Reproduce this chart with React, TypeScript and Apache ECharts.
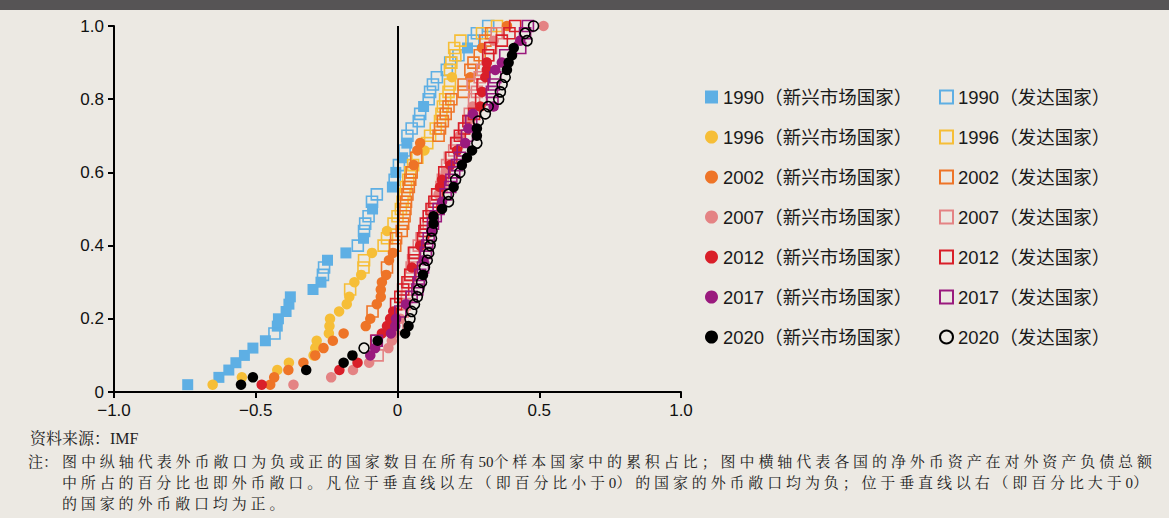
import React, { useEffect, useRef } from 'react';
import * as echarts from 'echarts';

// ---- Data: [net FX asset share, cumulative share of countries] ----
const em1990 = [[-0.74,0.02],[-0.63,0.04],[-0.595,0.06],[-0.57,0.08],[-0.54,0.10],[-0.51,0.12],[-0.466,0.14],[-0.424,0.18],[-0.42,0.20],[-0.393,0.22],[-0.383,0.24],[-0.378,0.26],[-0.298,0.28],[-0.27,0.30],[-0.247,0.36],[-0.182,0.38],[-0.12,0.42],[-0.088,0.50],[-0.018,0.56],[-0.006,0.60],[0.018,0.64],[0.033,0.68],[0.092,0.78],[0.247,0.94]];
const dev1990 = [[-0.434,0.16],[-0.263,0.32],[-0.259,0.34],[-0.14,0.40],[-0.118,0.44],[-0.114,0.46],[-0.102,0.48],[-0.09,0.52],[-0.073,0.54],[-0.01,0.58],[0.005,0.62],[0.025,0.66],[0.035,0.70],[0.05,0.72],[0.075,0.74],[0.08,0.76],[0.11,0.80],[0.115,0.82],[0.125,0.84],[0.139,0.86],[0.174,0.88],[0.186,0.90],[0.215,0.92],[0.268,0.96],[0.28,0.98],[0.32,1.0]];
const em1996 = [[-0.652,0.02],[-0.549,0.04],[-0.424,0.06],[-0.383,0.08],[-0.296,0.10],[-0.29,0.12],[-0.285,0.14],[-0.242,0.16],[-0.24,0.18],[-0.238,0.20],[-0.206,0.22],[-0.179,0.24],[-0.17,0.26],[-0.152,0.30],[-0.128,0.32],[-0.09,0.38],[-0.037,0.44],[0.095,0.66],[0.192,0.86]];
const dev1996 = [[-0.167,0.28],[-0.12,0.34],[-0.118,0.36],[-0.049,0.40],[-0.037,0.42],[-0.014,0.46],[0.0,0.48],[0.012,0.50],[0.018,0.52],[0.025,0.54],[0.03,0.56],[0.038,0.58],[0.045,0.60],[0.055,0.62],[0.07,0.64],[0.105,0.68],[0.115,0.70],[0.135,0.72],[0.15,0.74],[0.155,0.76],[0.16,0.78],[0.168,0.80],[0.18,0.82],[0.185,0.84],[0.185,0.88],[0.19,0.90],[0.204,0.92],[0.2,0.94],[0.222,0.96],[0.298,0.98],[0.351,1.0]];
const em2002 = [[-0.449,0.02],[-0.435,0.04],[-0.385,0.06],[-0.332,0.08],[-0.29,0.10],[-0.261,0.12],[-0.228,0.14],[-0.19,0.16],[-0.112,0.18],[-0.096,0.20],[-0.073,0.24],[-0.059,0.26],[-0.059,0.28],[-0.055,0.30],[-0.04,0.32],[-0.03,0.36],[-0.016,0.38],[0.057,0.62],[0.07,0.66],[0.08,0.68],[0.257,0.86],[0.298,0.94],[0.386,1.0]];
const dev2002 = [[-0.088,0.22],[-0.037,0.34],[-0.008,0.40],[-0.005,0.42],[0.015,0.44],[0.02,0.46],[0.025,0.48],[0.028,0.50],[0.03,0.52],[0.035,0.54],[0.04,0.56],[0.045,0.58],[0.05,0.60],[0.066,0.64],[0.145,0.70],[0.15,0.72],[0.16,0.74],[0.17,0.76],[0.18,0.78],[0.19,0.80],[0.233,0.82],[0.233,0.84],[0.257,0.88],[0.268,0.90],[0.29,0.92],[0.31,0.96],[0.33,0.98]];
const em2007 = [[-0.367,0.02],[-0.234,0.04],[-0.157,0.06],[-0.10,0.08],[-0.032,0.12],[-0.02,0.14],[-0.01,0.16],[0.01,0.20],[0.12,0.48],[0.145,0.54],[0.17,0.60],[0.22,0.70],[0.25,0.74],[0.265,0.78],[0.315,0.90],[0.339,0.96],[0.515,1.0]];
const dev2007 = [[-0.07,0.10],[0.0,0.18],[0.018,0.22],[0.025,0.24],[0.033,0.26],[0.035,0.28],[0.04,0.30],[0.045,0.32],[0.05,0.34],[0.055,0.36],[0.062,0.38],[0.075,0.40],[0.085,0.42],[0.1,0.44],[0.11,0.46],[0.125,0.50],[0.135,0.52],[0.155,0.56],[0.16,0.58],[0.175,0.62],[0.185,0.64],[0.2,0.66],[0.21,0.68],[0.235,0.72],[0.255,0.76],[0.27,0.80],[0.28,0.82],[0.265,0.84],[0.29,0.86],[0.3,0.88],[0.32,0.92],[0.33,0.94],[0.35,0.98]];
const em2012 = [[-0.479,0.02],[-0.205,0.06],[-0.141,0.08],[-0.055,0.16],[-0.037,0.18],[-0.026,0.20],[-0.015,0.22],[0.051,0.34],[0.08,0.40],[0.15,0.56],[0.157,0.58],[0.186,0.62],[0.21,0.66],[0.292,0.78],[0.298,0.82],[0.31,0.86],[0.315,0.88],[0.315,0.90]];
const dev2012 = [[-0.075,0.14],[-0.005,0.24],[0.01,0.26],[0.02,0.28],[0.035,0.30],[0.045,0.32],[0.06,0.36],[0.058,0.38],[0.09,0.42],[0.095,0.44],[0.10,0.46],[0.11,0.48],[0.12,0.50],[0.13,0.52],[0.14,0.54],[0.165,0.60],[0.19,0.64],[0.207,0.68],[0.22,0.70],[0.235,0.72],[0.25,0.74],[0.27,0.76],[0.295,0.80],[0.30,0.84],[0.32,0.92],[0.327,0.94],[0.368,0.96],[0.395,0.98],[0.415,1.0]];
const em2017 = [[-0.096,0.10],[-0.079,0.12],[-0.023,0.16],[-0.008,0.18],[-0.005,0.20],[0.03,0.24],[0.092,0.36],[0.119,0.44],[0.157,0.52],[0.239,0.68],[0.25,0.72],[0.266,0.76],[0.339,0.78],[0.345,0.88],[0.368,0.90],[0.433,0.96]];
const dev2017 = [[-0.073,0.14],[0.01,0.22],[0.05,0.26],[0.07,0.28],[0.075,0.30],[0.08,0.32],[0.09,0.34],[0.1,0.38],[0.105,0.40],[0.11,0.42],[0.125,0.46],[0.135,0.48],[0.145,0.50],[0.17,0.54],[0.186,0.56],[0.19,0.58],[0.2,0.60],[0.21,0.62],[0.22,0.64],[0.23,0.66],[0.245,0.70],[0.26,0.74],[0.335,0.80],[0.333,0.82],[0.34,0.84],[0.345,0.86],[0.38,0.92],[0.433,0.94],[0.45,0.98],[0.46,1.0]];
const em2020 = [[-0.552,0.02],[-0.51,0.04],[-0.322,0.06],[-0.19,0.08],[-0.159,0.10],[-0.07,0.14],[0.027,0.16],[0.039,0.18],[0.09,0.32],[0.127,0.46],[0.127,0.48],[0.157,0.50],[0.198,0.56],[0.227,0.62],[0.245,0.64],[0.263,0.66],[0.28,0.70],[0.28,0.72],[0.386,0.88],[0.392,0.90],[0.404,0.92],[0.41,0.94]];
const dev2020 = [[-0.118,0.12],[0.044,0.20],[0.05,0.22],[0.06,0.24],[0.07,0.26],[0.075,0.28],[0.085,0.30],[0.095,0.34],[0.105,0.36],[0.11,0.38],[0.115,0.40],[0.12,0.42],[0.122,0.44],[0.18,0.52],[0.18,0.54],[0.205,0.58],[0.22,0.60],[0.28,0.68],[0.285,0.74],[0.31,0.76],[0.32,0.78],[0.357,0.80],[0.363,0.82],[0.369,0.84],[0.38,0.86],[0.457,0.96],[0.45,0.98],[0.48,1.0]];

const years = ['1990', '1996', '2002', '2007', '2012', '2017', '2020'];
const emergingData = [em1990, em1996, em2002, em2007, em2012, em2017, em2020];
const developedData = [dev1990, dev1996, dev2002, dev2007, dev2012, dev2017, dev2020];
const yearColors = ['#5EAFE4', '#F6BE37', '#EE7427', '#E48384', '#D91F29', '#9A1A7E', '#000000'];
const emSuffix = '（新兴市场国家）';
const devSuffix = '（发达国家）';

const xTickLabels = ['−1.0', '−0.5', '0', '0.5', '1.0'];
const yTickLabels = ['0', '0.2', '0.4', '0.6', '0.8', '1.0'];

const sourceText = '资料来源：IMF';
const noteHead = '注：';
const noteLines = [
  '图中纵轴代表外币敞口为负或正的国家数目在所有50个样本国家中的累积占比；图中横轴代表各国的净外币资产在对外资产负债总额',
  '中所占的百分比也即外币敞口。凡位于垂直线以左（即百分比小于0）的国家的外币敞口均为负；位于垂直线以右（即百分比大于0）',
  '的国家的外币敞口均为正。',
];

const SANS = '"Liberation Sans", Arial, "Noto Sans CJK SC", sans-serif';
const SERIF = '"Liberation Serif", "Noto Serif CJK SC", "Noto Sans CJK SC", serif';

function spacedChars(str: string, x0: number, y: number, adv: number, fs: number) {
  const els: any[] = [];
  let x = x0;
  for (const ch of Array.from(str)) {
    const half = ch.charCodeAt(0) < 128;
    els.push({
      type: 'text', x, y,
      style: { text: ch, fontSize: fs, fontFamily: SERIF, fill: '#222', textVerticalAlign: 'middle' },
    });
    x += half ? fs * 0.5 : adv;
  }
  return els;
}

function advanceFor(str: string, width: number, fs: number) {
  const chars = Array.from(str);
  const nHalf = chars.filter((c) => c.charCodeAt(0) < 128).length;
  const nFull = chars.length - nHalf;
  return (width - nHalf * fs * 0.5 - fs) / (nFull - 1);
}

export default function App() {
  const ref = useRef<HTMLDivElement>(null);
  useEffect(() => {
    if (!ref.current) return;
    const chart = echarts.init(ref.current, null, { renderer: 'svg' });
    const series: any[] = [];
    years.forEach((yr, i) => {
      const c = yearColors[i];
      series.push({
        type: 'scatter', name: yr + emSuffix, data: emergingData[i], silent: true,
        symbol: i === 0 ? 'rect' : 'circle', symbolSize: i === 0 ? 11 : 10.5,
        itemStyle: { color: c, opacity: 1 },
        ...(i === 0 ? {
          markLine: {
            silent: true, symbol: 'none', label: { show: false },
            lineStyle: { color: '#000', width: 2, type: 'solid' },
            data: [{ xAxis: 0 }],
          },
        } : {}),
      });
      series.push({
        type: 'scatter', name: yr + devSuffix, data: developedData[i], silent: true,
        symbol: i === 6 ? 'circle' : 'rect', symbolSize: i === 6 ? 10 : 11,
        itemStyle: { color: 'rgba(0,0,0,0)', borderColor: c, borderWidth: 1.6, opacity: 1 },
      });
    });

    const legendCommon = {
      orient: 'vertical', top: 82, itemWidth: 13, itemHeight: 13, itemGap: 20,
      selectedMode: false,
      textStyle: { fontSize: 18.5, lineHeight: 20, color: '#1a1a1a', fontFamily: SANS },
    };

    const fs = 15;
    const adv1 = advanceFor(noteLines[0], 1152 - 62, fs);
    const adv2 = advanceFor(noteLines[1], 1148 - 62, fs);

    const graphics: any[] = [
      { type: 'rect', shape: { x: 0, y: 0, width: 1169, height: 10 }, style: { fill: '#565455' }, silent: true },
      { type: 'text', x: 30, y: 438, style: { text: sourceText, fontSize: 16, fontFamily: SERIF, fill: '#222', textVerticalAlign: 'middle' } },
      { type: 'text', x: 28, y: 462, style: { text: noteHead, fontSize: fs, fontFamily: SERIF, fill: '#222', textVerticalAlign: 'middle' } },
      ...spacedChars(noteLines[0], 62, 462, adv1, fs),
      ...spacedChars(noteLines[1], 62, 483, adv2, fs),
      ...spacedChars(noteLines[2], 62, 504, adv2, fs),
    ];

    chart.setOption({
      animation: false,
      backgroundColor: '#ECE9E3',
      grid: { left: 114, right: 488, top: 26, bottom: 126 },
      xAxis: {
        type: 'value', min: -1, max: 1, interval: 0.5,
        axisLine: { show: true, onZero: false, lineStyle: { color: '#000', width: 2 } },
        axisTick: { show: true, length: 6, lineStyle: { color: '#000', width: 2 } },
        splitLine: { show: false },
        axisLabel: {
          fontSize: 17, color: '#111', fontFamily: SANS, margin: 10,
          formatter: (v: number) => xTickLabels[Math.round((v + 1) / 0.5)] ?? '',
        },
      },
      yAxis: {
        type: 'value', min: 0, max: 1, interval: 0.2,
        axisLine: { show: true, onZero: false, lineStyle: { color: '#000', width: 2 } },
        axisTick: { show: true, length: 6, lineStyle: { color: '#000', width: 2 } },
        splitLine: { show: false },
        axisLabel: {
          fontSize: 17, color: '#111', fontFamily: SANS, margin: 10,
          formatter: (v: number) => yTickLabels[Math.round(v / 0.2)] ?? '',
        },
      },
      legend: [
        {
          ...legendCommon, left: 700,
          data: years.map((yr, i) => ({
            name: yr + emSuffix,
            icon: i === 0 ? 'rect' : 'circle',
            itemStyle: { color: yearColors[i], borderWidth: 0 },
          })),
        },
        {
          ...legendCommon, left: 934,
          data: years.map((yr, i) => ({
            name: yr + devSuffix,
            icon: i === 6 ? 'circle' : 'rect',
            itemStyle: { color: 'rgba(0,0,0,0)', borderColor: yearColors[i], borderWidth: 2 },
          })),
        },
      ],
      series,
      graphic: graphics,
    });
    return () => chart.dispose();
  }, []);
  return <div ref={ref} style={{ position: 'fixed', left: 0, top: 0, width: 1169, height: 518 }} />;
}
